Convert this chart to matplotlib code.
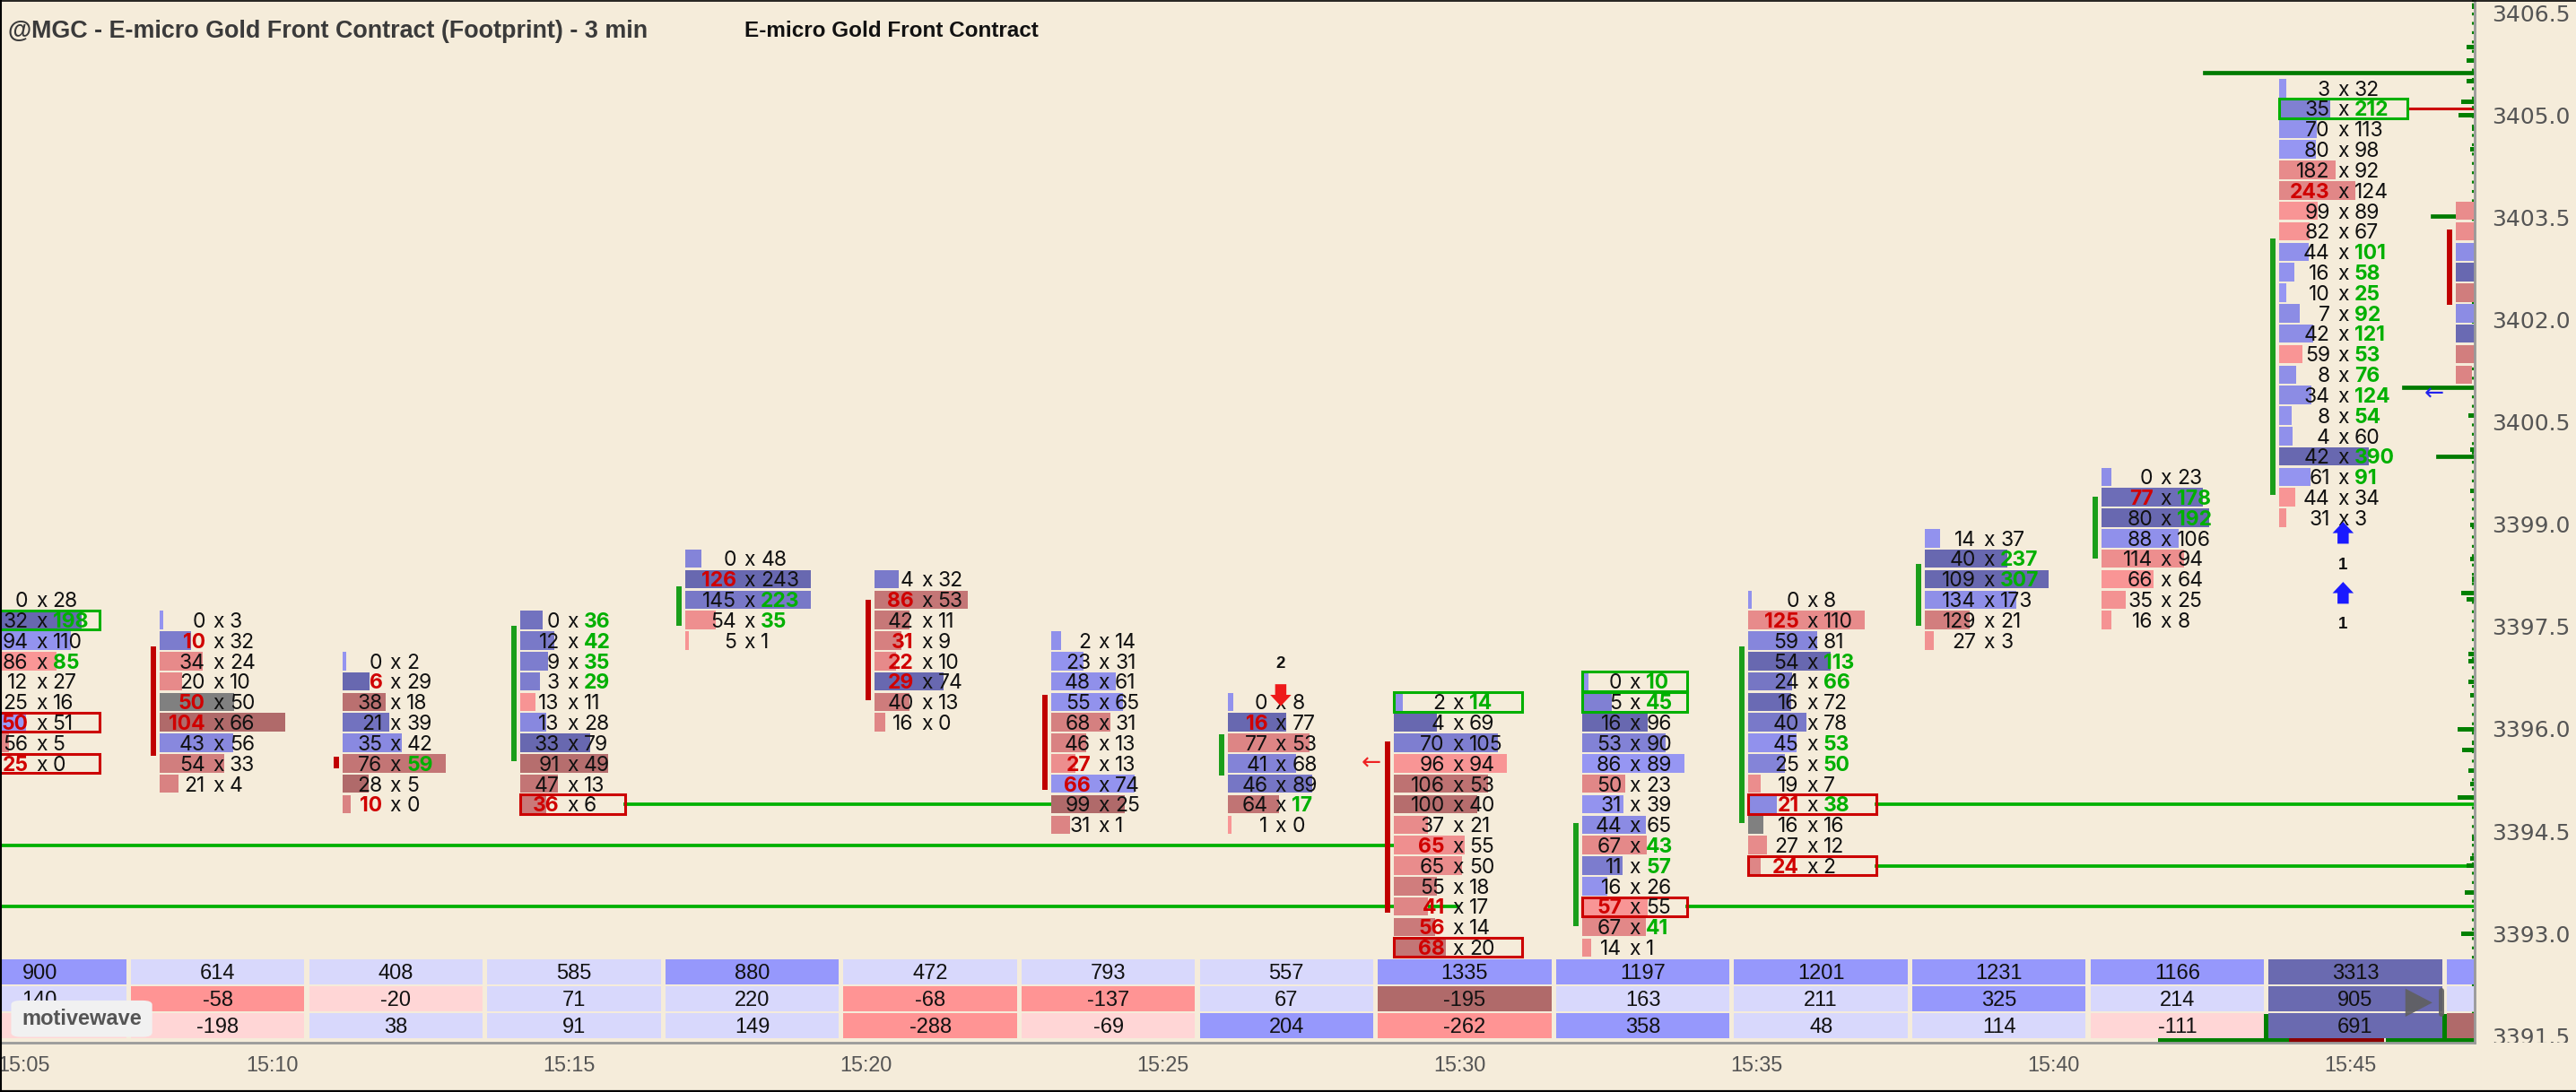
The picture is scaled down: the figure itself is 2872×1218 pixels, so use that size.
import numpy as np
import matplotlib
matplotlib.use('Agg')
import matplotlib.pyplot as plt
from matplotlib.patches import Rectangle, FancyArrow, FancyBboxPatch, Polygon
from matplotlib.lines import Line2D
from matplotlib.transforms import blended_transform_factory, offset_copy

# ---------------- data ----------------
# footprint rows per 3 min bar, top price first: (bid, ask)
C1506 = [(0, 28), (32, 198), (94, 110), (86, 85), (12, 27), (25, 16), (50, 51), (56, 5), (25, 0)]
C1509 = [(0, 3), (10, 32), (34, 24), (20, 10), (50, 50), (104, 66), (43, 56), (54, 33), (21, 4)]
C1512 = [(0, 2), (6, 29), (38, 18), (21, 39), (35, 42), (76, 59), (28, 5), (10, 0)]
C1515 = [(0, 36), (12, 42), (9, 35), (3, 29), (13, 11), (13, 28), (33, 79), (91, 49), (47, 13), (36, 6)]
C1518 = [(0, 48), (126, 243), (145, 223), (54, 35), (5, 1)]
C1521 = [(4, 32), (86, 53), (42, 11), (31, 9), (22, 10), (29, 74), (40, 13), (16, 0)]
C1524 = [(2, 14), (23, 31), (48, 61), (55, 65), (68, 31), (46, 13), (27, 13), (66, 74), (99, 25), (31, 1)]
C1527 = [(0, 8), (16, 77), (77, 53), (41, 68), (46, 89), (64, 17), (1, 0)]
C1530 = [(2, 14), (4, 69), (70, 105), (96, 94), (106, 53), (100, 40), (37, 21), (65, 55), (65, 50),
         (55, 18), (41, 17), (56, 14), (68, 20)]
C1533 = [(0, 10), (5, 45), (16, 96), (53, 90), (86, 89), (50, 23), (31, 39), (44, 65), (67, 43),
         (11, 57), (16, 26), (57, 55), (67, 41), (14, 1)]
C1536 = [(0, 8), (125, 110), (59, 81), (54, 113), (24, 66), (16, 72), (40, 78), (45, 53), (25, 50),
         (19, 7), (21, 38), (16, 16), (27, 12), (24, 2)]
C1539 = [(14, 37), (40, 237), (109, 307), (134, 173), (129, 21), (27, 3)]
C1542 = [(0, 23), (77, 178), (80, 192), (88, 106), (114, 94), (66, 64), (35, 25), (16, 8)]
C1545 = [(3, 32), (35, 212), (70, 113), (80, 98), (182, 92), (243, 124), (99, 89), (82, 67), (44, 101),
         (16, 58), (10, 25), (7, 92), (42, 121), (59, 53), (8, 76), (34, 124), (8, 54), (4, 60),
         (42, 390), (61, 91), (44, 34), (31, 3)]
C1548 = [(78, 52), (70, 48), (55, 80), (40, 150), (120, 58), (60, 88), (35, 140), (110, 50), (45, 0)]  # mostly off screen

FOOTPRINT = [C1506, C1509, C1512, C1515, C1518, C1521, C1524, C1527, C1530, C1533, C1536,
             C1539, C1542, C1545, C1548]
BAR_MIN = [6, 9, 12, 15, 18, 21, 24, 27, 30, 33, 36, 39, 42, 45, 48]   # minutes after 15:00
TOP_PRICE = [3397.9, 3397.6, 3397.0, 3397.6, 3398.5, 3398.2, 3397.3, 3396.4, 3396.4, 3396.7,
             3397.9, 3398.8, 3399.7, 3405.4, 3403.6]
BAR_DIR = [1, -1, -1, 1, 1, -1, -1, 1, -1, 1, 1, 1, 1, 1, -1]
VA_HIGH = [3397.48, 3397.22, 3395.60, 3397.51, 3398.10, 3397.90, 3396.51, 3395.92, 3395.82,
           3394.62, 3397.21, 3398.42, 3399.41, 3403.19, 3403.33]
VA_LOW = [3395.92, 3395.61, 3395.42, 3395.53, 3397.51, 3396.42, 3395.11, 3395.32, 3393.31,
          3393.11, 3394.62, 3397.51, 3398.50, 3399.43, 3402.22]
PREV_DELTA = 275   # delta of the bar before the first one shown

# outlined cells (bar index, row index, side)
BOX_BAR = [0, 0, 0, 3, 8, 8, 9, 9, 9, 10, 10, 13]
BOX_ROW = [1, 6, 8, 9, 0, 12, 0, 1, 11, 10, 13, 1]
BOX_SIDE = ['ask', 'bid', 'bid', 'bid', 'ask', 'bid', 'ask', 'ask', 'bid', 'bid', 'bid', 'ask']

OLD_LEVELS = [3394.3, 3393.4]                     # open levels from bars left of the view
EDGE_LEVELS = [3405.63, 3403.52, 3401.01, 3400.00]
EDGE_LEVEL_START = [42.46, 46.30, 45.82, 46.39]

SIGNAL_BAR = [7, 13, 13]
SIGNAL_DIR = [-1, 1, 1]
SIGNAL_COUNT = [2, 1, 1]

MARK_MIN = [28.42, 46.33]
MARK_PRICE = [3395.50, 3400.92]
MARK_COLOR = ['#ee2222', '#2222ee']

PROFILE_PRICE = [3406.7, 3406.6, 3406.0, 3405.8, 3405.5, 3405.2, 3405.0, 3404.8, 3404.5, 3400.6,
                 3400.1, 3399.5, 3399.0, 3398.5, 3398.2, 3398.0, 3397.9, 3397.1, 3397.0, 3396.7,
                 3396.5, 3396.0, 3395.8, 3395.7, 3395.4, 3395.2, 3395.0, 3394.4, 3394.1, 3394.0,
                 3393.6, 3393.0]
PROFILE_VOL = [2, 2, 7, 7, 7, 11, 13, 2, 4, 5, 4, 4, 4, 4, 2, 11, 7, 5, 5, 5, 4, 14, 2, 10, 5, 4,
               14, 2, 4, 7, 8, 11]

STRIP_START = [41.68, 43.88, 45.52]
STRIP_END = [43.88, 45.49, 47.01]
STRIP_SIGN = [1, -1, 1]

TIME_LABELS = ['15:05', '15:10', '15:15', '15:20', '15:25', '15:30', '15:35', '15:40', '15:45']
TIME_MIN = [5, 10, 15, 20, 25, 30, 35, 40, 45]
PRICE_TICKS = [3391.5, 3393.0, 3394.5, 3396.0, 3397.5, 3399.0, 3400.5, 3402.0, 3403.5, 3405.0, 3406.5]

# per-bar longest volume bar, pixels
BAR_LEN = [110, 140, 115, 98, 140, 104, 93, 94, 126, 114, 130, 138, 120, 100, 76]

# ---------------- style ----------------
BG = '#f5ecda'
ROW = 0.3
GREEN_TXT = '#00b000'
RED_TXT = '#d00000'
BLUE3 = ['#d8d8fc', '#9698fc', '#6a6ab0']
RED3 = ['#ffd6d6', '#ff9494', '#b06a6a']
plt.rcParams['font.family'] = ['Inter', 'DejaVu Sans']

W_PX, H_PX = 2872, 1218
AX_W, AX_H = 2759, 1163
X0, X1 = 5.334, 47.01
Y0, Y1 = 3391.404, 3406.692
dx = (X1 - X0) / AX_W
dy = (Y1 - Y0) / AX_H

fig = plt.figure(figsize=(W_PX / 100, H_PX / 100), dpi=100)
fig.patch.set_facecolor(BG)
ax = fig.add_axes([0, 1 - AX_H / H_PX, AX_W / W_PX, AX_H / H_PX])
ax.set_facecolor(BG)
ax.set_xlim(X0, X1)
ax.set_ylim(Y0, Y1)
ax.set_xticks([])
ax.set_yticks([])
for s in ['top', 'left']:
    ax.spines[s].set_visible(False)
for s in ['bottom', 'right']:
    ax.spines[s].set_color('#9a9a9a')
    ax.spines[s].set_linewidth(2)
    ax.spines[s].set_zorder(10)

tb = blended_transform_factory(ax.transData, ax.transAxes)
tr_fp = offset_copy(ax.transData, fig=fig, y=-8.3, units='dots')


def mix(c1, c2, t):
    return tuple((a + (b - a) * t) / 255 for a, b in zip(c1, c2))


def bar_color(d, dmax):
    if d == 0:
        return '#808080'
    t = min(abs(d) / dmax, 1)
    if d > 0:
        return mix((152, 152, 246), (104, 104, 176), t)
    return mix((250, 150, 150), (176, 106, 106), t)


def fp_centre(k):
    # footprint slots sit a little left of the bar time as the chart goes right
    return BAR_MIN[k] + (2 - 1.2 * k) * dx


# open levels from older bars, until a bar trades through them
ranges = []
for k, rows in enumerate(FOOTPRINT):
    ranges.append((TOP_PRICE[k] - ROW * (len(rows) - 1), TOP_PRICE[k]))


def first_touch(price, after):
    for j in range(after, len(FOOTPRINT)):
        lo, hi = ranges[j]
        if lo - 0.01 <= price <= hi + 0.01:
            return j
    return None


for p in OLD_LEVELS:
    j = first_touch(p, 0)
    x_end = fp_centre(j) if j is not None else X1
    ax.plot([X0, x_end], [p, p], color='#00b000', lw=2.7, zorder=2)

# footprint bars
geo = []
for k, rows in enumerate(FOOTPRINT):
    bids = np.array([r[0] for r in rows])
    asks = np.array([r[1] for r in rows])
    n = len(rows)
    prices = TOP_PRICE[k] - ROW * np.arange(n)
    vol = bids + asks
    delta = asks - bids
    nd = len(str(bids.max())) + len(str(asks.max()))
    wpx = 65 + 13 * nd
    xs = fp_centre(k)
    left = xs - wpx / 2 * dx
    geo.append((left, wpx * dx, prices))
    scale = BAR_LEN[k] / vol.max()
    dmax = max(np.abs(delta).max(), 1)
    for i in range(n):
        L = max(vol[i] * scale, 3.5) * dx
        ax.add_patch(Rectangle((left, prices[i] - 0.135), L, 0.27, fc=bar_color(delta[i], dmax),
                               ec='none', zorder=3))
        bid_imb = i > 0 and bids[i] > 0 and bids[i] >= 2 * asks[i - 1]
        ask_imb = i < n - 1 and asks[i] > 0 and asks[i] >= 2 * bids[i + 1]
        ax.text(xs - 14.5 * dx, prices[i], str(bids[i]), ha='right', va='baseline', fontsize=16.5,
                color=RED_TXT if bid_imb else '#111111', fontweight='bold' if bid_imb else 'normal',
                transform=tr_fp, zorder=5, clip_on=True)
        ax.text(xs, prices[i], 'x', ha='center', va='baseline', fontsize=16.5, color='#111111',
                transform=tr_fp, zorder=5, clip_on=True)
        ax.text(xs + 12.5 * dx, prices[i], str(asks[i]), ha='left', va='baseline', fontsize=16.5,
                color=GREEN_TXT if ask_imb else '#111111', fontweight='bold' if ask_imb else 'normal',
                transform=tr_fp, zorder=5, clip_on=True)
    va_col = '#1a9e1a' if BAR_DIR[k] > 0 else '#c00000'
    ax.plot([left - 7 * dx] * 2, [VA_HIGH[k], VA_LOW[k]], color=va_col, lw=4.3,
            solid_capstyle='butt', zorder=3)

# outlined cells and the levels they leave
for b, r, side in zip(BOX_BAR, BOX_ROW, BOX_SIDE):
    left, w, prices = geo[b]
    p = prices[r]
    edge = GREEN_TXT if side == 'ask' else '#cc0000'
    ax.add_patch(Rectangle((left, p - 0.14), w, 0.28, fill=False, ec=edge, lw=2.2, zorder=4))
    j = first_touch(p, b + 1)
    if j == b + 1:
        continue
    x_end = fp_centre(j) if j is not None else X1
    ax.plot([left + w, x_end], [p, p], color='#00b000' if side == 'bid' else '#cc0000',
            lw=2.7 if side == 'bid' else 2.2, zorder=2)

for p, x0 in zip(EDGE_LEVELS, EDGE_LEVEL_START):
    ax.plot([x0, X1], [p, p], color='#007a00', lw=3.4, zorder=2.6)

# volume profile along the right edge
ax.plot([X1 - 2 * dx] * 2, [Y0, Y1], color='#008000', lw=1.5, ls=(0, (1.5, 3.5)), zorder=2.4)
for p, v in zip(PROFILE_PRICE, PROFILE_VOL):
    ax.add_patch(Rectangle((X1 - v * 1.35 * dx, p - 0.033), v * 1.35 * dx, 0.066, fc='#008000',
                           ec='none', zorder=2.5))

# signals
stack = {}
for b, d, c in zip(SIGNAL_BAR, SIGNAL_DIR, SIGNAL_COUNT):
    s = stack.get(b, 0)
    stack[b] = s + 1
    xs = fp_centre(b)
    lo, hi = ranges[b]
    if d < 0:
        tip = hi - 0.06 + 0.88 * s
        base = tip + 0.32
        lab = tip + 0.62
        col = '#ee1a1a'
    else:
        tip = lo - 0.06 - 0.88 * s
        base = tip - 0.32
        lab = tip - 0.63
        col = '#1a1aff'
    ax.add_patch(FancyArrow(xs, base, 0, tip - base, width=12.5 * dx, head_width=23.5 * dx,
                            head_length=12.5 * dy, length_includes_head=True, color=col,
                            ec='none', zorder=6))
    ax.text(xs, lab, str(c), ha='center', va='center', fontsize=13.5, fontweight='bold',
            family=['Liberation Sans', 'DejaVu Sans'], color='#111111', zorder=6)

for m, p, c in zip(MARK_MIN, MARK_PRICE, MARK_COLOR):
    ax.text(m, p, '\u2190', ha='center', va='center', fontsize=19, color=c,
            family='DejaVu Sans', zorder=6)

# summary table
vols, deltas = [], []
for rows in FOOTPRINT:
    vols.append(sum(b + a for b, a in rows))
    deltas.append(sum(a - b for b, a in rows))
changes = list(np.diff([PREV_DELTA] + deltas))


def shade(v, cuts_pos, cuts_neg):
    if v >= 0:
        return BLUE3[0] if v < cuts_pos[0] else BLUE3[1] if v < cuts_pos[1] else BLUE3[2]
    return RED3[0] if v > cuts_neg[0] else RED3[1] if v > cuts_neg[1] else RED3[2]


ROW_Y = [(0.0561, 0.0800), (0.0304, 0.0542), (0.0046, 0.0284)]
CUTS = [((850, 2000), (0, 0)), ((300, 600), (-50, -150)), ((200, 500), (-200, -400))]
tr_tab = offset_copy(tb, fig=fig, y=-8.4, units='dots')
for s, e, sg in zip(STRIP_START, STRIP_END, STRIP_SIGN):
    ax.add_patch(Rectangle((s, 0), e - s, 0.0275, transform=tb, fc='#008000' if sg > 0 else '#8b0000',
                           ec='none', zorder=5.5))
for r, series in enumerate([vols, deltas, changes]):
    y0, y1 = ROW_Y[r]
    for k, v in enumerate(series):
        cx = BAR_MIN[k]
        ax.add_patch(Rectangle((cx - 1.46, y0), 2.92, y1 - y0, transform=tb,
                               fc=shade(v, *CUTS[r]), ec='none', zorder=6))
        ax.text(cx, (y0 + y1) / 2, str(v), ha='center', va='baseline', fontsize=17,
                family=['Liberation Sans', 'DejaVu Sans'], color='#111111',
                transform=tr_tab, zorder=7, clip_on=True)

# watermark and replay button
ax.add_patch(FancyBboxPatch((0.0045, 0.0055), 0.057, 0.035, boxstyle='round,pad=0,rounding_size=0.004',
                            transform=ax.transAxes, fc='#f1f1f1', ec='none', zorder=8))
ax.text(0.033, 0.0232, 'motivewave', transform=ax.transAxes, ha='center', va='center', fontsize=17,
        fontweight='bold', family=['Liberation Sans', 'DejaVu Sans'], color='#555555', zorder=9)
ax.add_patch(Polygon([[0.972, 0.0519], [0.972, 0.0249], [0.9829, 0.0384]], closed=True,
                     transform=ax.transAxes, fc='#5f5f5f', ec='none', alpha=0.9, zorder=9))
ax.plot([0.9866, 0.9866], [0.0275, 0.0495], transform=ax.transAxes, color='#5f5f5f', lw=4.3,
        solid_capstyle='round', alpha=0.9, zorder=9)

# time axis labels
tr_time = offset_copy(tb, fig=fig, y=-32.4, units='dots')
for lab, m in zip(TIME_LABELS, TIME_MIN):
    x = m - 0.08
    if x - 29 * dx < X0:
        ax.text(X0 - 3 * dx, 0, lab, ha='left', va='baseline', transform=tr_time, fontsize=16.8,
                family=['Liberation Sans', 'DejaVu Sans'], color='#555555', clip_on=False)
    else:
        ax.text(x, 0, lab, ha='center', va='baseline', transform=tr_time, fontsize=16.8,
                family=['Liberation Sans', 'DejaVu Sans'], color='#555555', clip_on=False)

# price axis on the right
ax_r = fig.add_axes([AX_W / W_PX, 1 - AX_H / H_PX, 1 - AX_W / W_PX, AX_H / H_PX])
ax_r.set_xlim(0, 1)
ax_r.set_ylim(Y0, Y1)
ax_r.axis('off')
tr_r = offset_copy(ax_r.transData, fig=fig, y=-9.1, units='dots')
for p in PRICE_TICKS:
    ax_r.text(0.168, p, f'{p:.1f}', ha='left', va='baseline', fontsize=18, family='DejaVu Sans',
              color='#555555', transform=tr_r, clip_on=True)

# header
fig.text(9 / W_PX, 1 - 41.5 / H_PX, '@MGC - E-micro Gold Front Contract (Footprint) - 3 min',
         fontsize=19.4, fontweight='bold', family=['Liberation Sans', 'DejaVu Sans'], color='#3a3a3a')
fig.text(830 / W_PX, 1 - 41 / H_PX, 'E-micro Gold Front Contract', fontsize=17.5,
         fontweight='bold', family=['Liberation Sans', 'DejaVu Sans'], color='#111111')

# window frame
fig.add_artist(Line2D([0.0003, 0.0003], [0, 1], transform=fig.transFigure, color='black', lw=1.5))
fig.add_artist(Line2D([0, 1], [0.9995, 0.9995], transform=fig.transFigure, color='black', lw=1.2))
fig.add_artist(Line2D([0, 1], [0.0009, 0.0009], transform=fig.transFigure, color='black', lw=1.6))

fig.savefig('out.png', dpi=100, facecolor=BG)
